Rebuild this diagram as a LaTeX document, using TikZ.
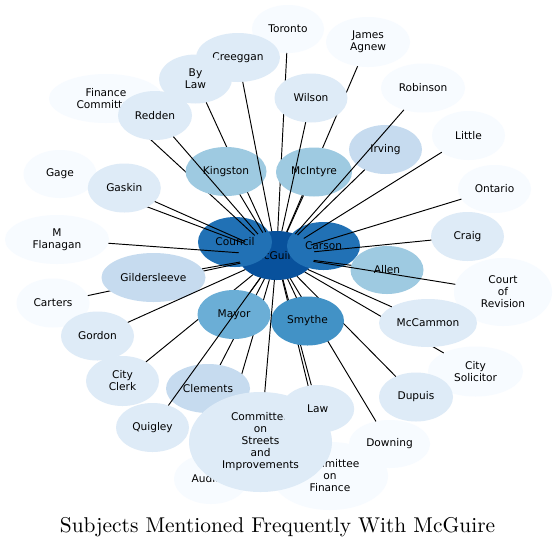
\documentclass[tikz,border=0pt]{standalone}
\usepackage{fontspec}
\newfontfamily\nodefont{DejaVu Sans}
\newfontfamily\titlefont{lmroman10-regular}[Extension=.otf]
\usetikzlibrary{shapes.geometric}
\definecolor{bA}{HTML}{F7FBFF}
\definecolor{bB}{HTML}{DEEBF7}
\definecolor{bC}{HTML}{C6DBEF}
\definecolor{bD}{HTML}{9ECAE1}
\definecolor{bE}{HTML}{6BAED6}
\definecolor{bF}{HTML}{4292C6}
\definecolor{bG}{HTML}{2171B5}
\definecolor{bH}{HTML}{08519C}
\pgfdeclarelayer{bgpaper}
\pgfdeclarelayer{nodesA}
\pgfdeclarelayer{edgesB}
\pgfdeclarelayer{nodesC}
\pgfsetlayers{bgpaper,nodesA,edgesB,nodesC,main}
\tikzset{
  bub/.style n args={3}{ellipse, fill=#1, draw=none, minimum width=#2*2, minimum height=#3*2,
    inner sep=0pt, outer sep=0pt, align=center, text=black,
    font=\nodefont\fontsize{10.6}{12}\selectfont},
  link/.style={draw=black, line width=0.95pt},
}
\begin{document}
\begin{tikzpicture}[x=1pt,y=-1pt]
\begin{pgfonlayer}{bgpaper}
\fill[white] (0,0) rectangle (556,547);
\end{pgfonlayer}
\useasboundingbox (0,0) rectangle (556,547);

\begin{pgfonlayer}{nodesA}
\node[bub={bA}{36}{24}] (toronto) at (288,29) {Toronto};
\node[bub={bB}{42}{24.5}] (creeggan) at (238,57.5) {Creeggan};
\node[bub={bB}{36.5}{24.5}] (bylaw) at (195.5,79) {By\\Law};
\node[bub={bA}{42}{25}] (agnew) at (368,42) {James\\Agnew};
\node[bub={bA}{42}{24.5}] (robinson) at (423,88) {Robinson};
\node[bub={bA}{36.5}{24.5}] (little) at (468.5,135.5) {Little};
\node[bub={bA}{36.5}{24}] (ontario) at (494.5,189) {Ontario};
\node[bub={bA}{49}{34}] (court) at (503,292) {Court\\of\\Revision};
\node[bub={bB}{36.5}{24.5}] (craig) at (467.5,236.5) {Craig};
\node[bub={bA}{47.5}{25}] (solicitor) at (475.5,371.5) {City\\Solicitor};
\node[bub={bB}{37}{24.5}] (dupuis) at (416,397) {Dupuis};
\node[bub={bA}{40.5}{24}] (downing) at (389.5,444) {Downing};
\node[bub={bA}{37}{25}] (auditor) at (211,479) {Auditor};
\node[bub={bA}{58}{34}] (cfin) at (330,476) {Committee\\on\\Finance};
\node[bub={bA}{57}{24.5}] (fincom) at (106,98.5) {Finance\\Committee};
\node[bub={bA}{36.5}{24}] (gage) at (60,174) {Gage};
\node[bub={bA}{36.5}{24.5}] (carters) at (53,303) {Carters};
\node[bub={bB}{36.5}{24.5}] (gordon) at (97.5,336) {Gordon};
\node[bub={bA}{52}{24.5}] (flanagan) at (57,239.5) {M\\Flanagan};
\node[bub={bB}{36.5}{25}] (clerk) at (122.5,381) {City\\Clerk};
\node[bub={bC}{36.5}{24.5}] (irving) at (385.5,149.5) {Irving};
\node[bub={bD}{36.5}{24}] (allen) at (387,270) {Allen};
\node[bub={bH}{38}{24.5}] (mcguire) at (276.5,255.5) {McGuire};
\node[bub={bG}{37}{25}] (council) at (235,242) {Council};
\node[bub={bG}{36.5}{24}] (carson) at (323.5,246) {Carson};
\end{pgfonlayer}

\begin{pgfonlayer}{nodesC}
\node[bub={bD}{40.5}{24.5}] (kingston) at (226,171.5) {Kingston};
\node[bub={bB}{37}{24.5}] (redden) at (155,115.5) {Redden};
\node[bub={bB}{36.5}{24.5}] (gaskin) at (124.3,188) {Gaskin};
\node[bub={bC}{52}{24.5}] (gilder) at (153.5,277.5) {Gildersleeve};
\node[bub={bE}{36.5}{24.5}] (mayor) at (234,314.5) {Mayor};
\node[bub={bF}{36.5}{24.5}] (smythe) at (307.5,321) {Smythe};
\node[bub={bC}{42}{24.5}] (clements) at (208,388.5) {Clements};
\node[bub={bB}{36.5}{24.5}] (quigley) at (152.5,427.5) {Quigley};
\node[bub={bB}{71.5}{50}] (streets) at (260.5,442) {Committee\\on\\Streets\\and\\Improvements};
\node[bub={bB}{36.5}{24}] (law) at (317.7,409) {Law};
\node[bub={bB}{36.5}{24.5}] (wilson) at (311,98) {Wilson};
\node[bub={bD}{38}{24.5}] (mcintyre) at (314,172) {McIntyre};
\node[bub={bB}{49}{24}] (mccammon) at (428,323) {McCammon};
\end{pgfonlayer}

\begin{pgfonlayer}{edgesB}
\foreach \t in {fincom,gage,carters,auditor,cfin,toronto,agnew,solicitor,downing,law,clements,bylaw,clerk,dupuis}
  \draw[link] (mcguire) -- (\t);
\end{pgfonlayer}

\foreach \t in {redden,gaskin,gilder,kingston,mayor,smythe,quigley,streets,wilson,mcintyre,mccammon,irving,robinson,little,ontario,craig,court,allen,gordon,flanagan,creeggan}
  \draw[link] (mcguire) -- (\t);

\node[font=\titlefont\fontsize{21.4}{26}\selectfont, anchor=base] (title) at (277.5,532) {Subjects Mentioned Frequently With McGuire};
\end{tikzpicture}
\end{document}
